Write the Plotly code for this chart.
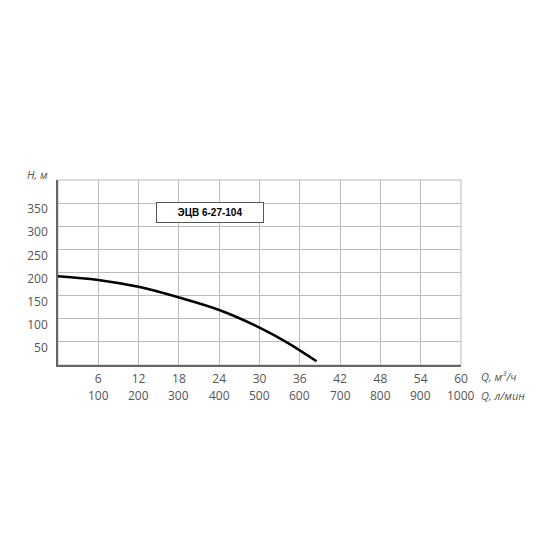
import plotly.graph_objects as go

# pump curve ЭЦВ 6-27-104
q_m3h = [0, 6, 12, 18, 24, 30, 34.2, 38.5]
head_m = [192, 184, 169, 146, 119, 81, 48, 8]

x_ticks = [6, 12, 18, 24, 30, 36, 42, 48, 54, 60]
lmin_labels = ["100", "200", "300", "400", "500", "600", "700", "800", "900", "1000"]
y_ticks = [50, 100, 150, 200, 250, 300, 350]

font = "Open Sans"
tick_col = "#555555"

fig = go.Figure()
fig.add_trace(go.Scatter(x=q_m3h, y=head_m, mode="lines", line=dict(color="black", width=2.5, shape="spline"),
                         showlegend=False, hoverinfo="skip"))

# second row of x labels (l/min)
for x, t in zip(x_ticks, lmin_labels):
    fig.add_annotation(x=x, y=0, yref="y", text=t, showarrow=False, yshift=-30,
                       font=dict(family=font, size=12, color=tick_col))

fig.add_annotation(x=60, y=0, text="<i>Q, м<sup>3</sup>/ч</i>", showarrow=False, xanchor="left",
                   xshift=18, yshift=-11, font=dict(family=font, size=11, color=tick_col))
fig.add_annotation(x=60, y=0, text="<i>Q, л/мин</i>", showarrow=False, xanchor="left",
                   xshift=18, yshift=-30, font=dict(family=font, size=11, color=tick_col))
fig.add_annotation(x=0, y=400, text="<i>Н, м</i>", showarrow=False, xanchor="right",
                   xshift=-8, yshift=6, font=dict(family=font, size=11, color=tick_col))

# model name box
fig.add_annotation(x=22.6, y=330, text="<b>ЭЦВ 6-27-104</b>", showarrow=False,
                   font=dict(family="Liberation Sans", size=10, color="black"),
                   bordercolor="#555555", borderwidth=1, borderpad=4, bgcolor="white", width=98)

fig.update_layout(
    width=550, height=550,
    margin=dict(l=50, r=97, t=172, b=193, autoexpand=False),
    plot_bgcolor="white", paper_bgcolor="white",
    xaxis=dict(range=[0, 60], tickvals=x_ticks, showgrid=True, gridcolor="#bbbbbb", gridwidth=1,
               showline=True, linecolor="#666666", linewidth=1.5, mirror=False, zeroline=False,
               ticklabelstandoff=2,
               tickfont=dict(family=font, size=12, color=tick_col), fixedrange=True),
    yaxis=dict(range=[0, 400], tickvals=y_ticks + [400], ticktext=[str(v) for v in y_ticks] + [""],
               showgrid=True, gridcolor="#bbbbbb", gridwidth=1,
               showline=True, linecolor="#666666", linewidth=1.5, zeroline=False, ticklabelshift=6,
               ticklabelstandoff=6, tickfont=dict(family=font, size=12, color=tick_col), fixedrange=True),
)
fig.add_shape(type="rect", xref="paper", yref="paper", x0=0, x1=1, y0=0, y1=1,
              line=dict(color="#bbbbbb", width=1), layer="below")

fig.write_html("out.html")
